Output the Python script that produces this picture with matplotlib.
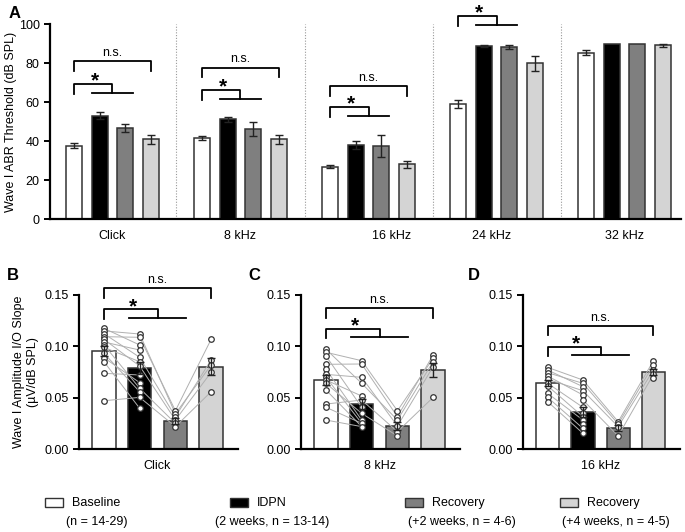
import matplotlib.pyplot as plt
from matplotlib.patches import Rectangle
import numpy as np

plt.rcParams['font.family'] = ['Liberation Sans', 'DejaVu Sans']
plt.rcParams['font.size'] = 9

# ---- data ----
groups = ['Baseline', 'IDPN', 'Recovery', 'Recovery']
group_sub = ['(n = 14-29)', '(2 weeks, n = 13-14)', '(+2 weeks, n = 4-6)', '(+4 weeks, n = 4-5)']
colors = ['white', 'black', '#7f7f7f', '#d4d4d4']

# panel A: ABR thresholds (dB SPL), rows = stimulus, cols = group
freqs_a = ['Click', '8 kHz', '16 kHz', '24 kHz', '32 kHz']
thr_mean = [[37.7, 53.0, 46.6, 40.9],
            [41.4, 51.2, 46.2, 40.9],
            [26.9, 38.0, 37.5, 28.0],
            [59.2, 88.9, 88.2, 79.8],
            [85.4, 90.0, 90.0, 89.0]]
thr_sem = [[1.1, 1.9, 2.2, 2.3],
           [1.0, 1.2, 3.8, 2.2],
           [0.7, 2.0, 5.7, 2.0],
           [2.1, 0.6, 1.2, 3.8],
           [1.5, 0.0, 0.0, 1.0]]
# significance brackets in A: (stimulus index, n.s. height or None, star height)
sig_a = [(0, 80.8, 69.2), (1, 77.7, 66.3), (2, 68.3, 57.4), (3, None, 104.0)]

# panels B-D: wave I amplitude I/O slope
freqs_b = ['Click', '8 kHz', '16 kHz']
slope_mean = [[0.0955, 0.0787, 0.0269, 0.0802],
              [0.0672, 0.0438, 0.0224, 0.0770],
              [0.0646, 0.0364, 0.0208, 0.0753]]
slope_sem = [[0.005, 0.006, 0.003, 0.008],
             [0.005, 0.005, 0.004, 0.007],
             [0.003, 0.005, 0.003, 0.003]]

click_base = [0.1175, 0.115, 0.1123, 0.1094, 0.1068, 0.1042, 0.1013, 0.099, 0.0932, 0.089, 0.085, 0.0737, 0.047]
click_idpn = [0.112, 0.1088, 0.1013, 0.0964, 0.0893, 0.085, 0.0808, 0.0721, 0.0646, 0.0591, 0.0558, 0.0503, 0.0396]
click_rec2 = [0.0373, 0.0344, 0.0315, 0.0282, 0.025, 0.0218]
click_rec4 = [0.1068, 0.0867, 0.0818, 0.0747, 0.0558]

k8_base = [0.0971, 0.0942, 0.0906, 0.0825, 0.0776, 0.0727, 0.0698, 0.0672, 0.064, 0.0575, 0.0438, 0.0406, 0.0282]
k8_idpn = [0.086, 0.0828, 0.0698, 0.064, 0.0516, 0.0477, 0.0406, 0.0347, 0.0282, 0.025, 0.0218]
k8_rec2 = [0.0373, 0.0315, 0.0282, 0.0224, 0.0169, 0.0127]
k8_rec4 = [0.0916, 0.0883, 0.0851, 0.0802, 0.0503]

k16_base = [0.0795, 0.0769, 0.0743, 0.0711, 0.0679, 0.064, 0.0614, 0.0542, 0.0503, 0.0461]
k16_idpn = [0.0672, 0.064, 0.0607, 0.0568, 0.0526, 0.0477, 0.0406, 0.0354, 0.0315, 0.0282, 0.0244, 0.0201, 0.0153]
k16_rec2 = [0.0266, 0.0244, 0.0218, 0.0127]
k16_rec4 = [0.086, 0.0818, 0.0769, 0.0727, 0.0688]

# which animals are tracked across sessions (index pairs)
click_pairs = [[(0, 2), (1, 0), (2, 4), (3, 1), (4, 6), (5, 3), (6, 9), (7, 5), (8, 10), (9, 8), (10, 12), (11, 7), (12, 11)],
               [(0, 1), (1, 0), (4, 2), (6, 3), (9, 4), (11, 5)],
               [(0, 0), (1, 2), (2, 1), (3, 3), (5, 4)]]
k8_pairs = [[(0, 3), (1, 0), (2, 6), (3, 1), (4, 8), (5, 2), (6, 9), (7, 4), (8, 7), (9, 10), (10, 5), (11, 9), (12, 10)],
            [(0, 0), (1, 1), (2, 3), (3, 2), (5, 4), (7, 5)],
            [(0, 1), (1, 0), (2, 2), (3, 3), (4, 4)]]
k16_pairs = [[(0, 0), (1, 2), (2, 1), (3, 4), (4, 3), (5, 6), (6, 8), (7, 9), (8, 11), (9, 12)],
             [(0, 0), (1, 1), (3, 2), (5, 3)],
             [(0, 0), (1, 1), (2, 2), (3, 3)]]
sig_b = [(0.1565, 0.136), (0.137, 0.117), (0.1199, 0.0998)]

fig = plt.figure(figsize=(6.85, 5.32), dpi=100)


def style_axes(ax):
    for s in ['top', 'right']:
        ax.spines[s].set_visible(False)
    for s in ['left', 'bottom']:
        ax.spines[s].set_linewidth(1.6)
    ax.tick_params(axis='y', width=1.4, length=4, labelsize=9)
    ax.tick_params(axis='x', length=0, labelsize=9, pad=8)


def star_bracket(ax, x0, top, drop, text_off):
    kw = dict(color='black', lw=1.3, clip_on=False)
    ax.plot([x0, x0, x0 + 1.5, x0 + 1.5], [top - drop, top, top, top - drop * 0.9], **kw)
    ax.plot([x0 + 0.7, x0 + 2.3], [top - drop * 0.9, top - drop * 0.9], **kw)
    ax.text(x0 + 0.8, top + text_off, '*', ha='center', va='center', fontsize=15, fontweight='bold')


def ns_bracket(ax, x0, x1, top, drop, text_off):
    ax.plot([x0, x0, x1, x1], [top - drop, top, top, top - drop], color='black', lw=1.3, clip_on=False)
    ax.text((x0 + x1) / 2, top + text_off, 'n.s.', ha='center', va='bottom', fontsize=9)


# ---- panel A ----
axA = fig.add_axes([0.073, 0.5883, 0.921, 0.3665])
for g in range(len(freqs_a)):
    for j in range(4):
        x = g * 5 + j
        axA.bar(x, thr_mean[g][j], width=0.63, color=colors[j], edgecolor='#333333', linewidth=1.1, zorder=2)
        if thr_sem[g][j] > 0:
            axA.errorbar(x, thr_mean[g][j], yerr=thr_sem[g][j], color='#222222', lw=1, capsize=3, capthick=1, zorder=3)
for g in range(1, len(freqs_a)):
    axA.axvline(g * 5 - 1, color='#999999', lw=0.8, ls=(0, (1, 1.5)), zorder=1)
for g, ns_h, st_h in sig_a:
    if ns_h is not None:
        ns_bracket(axA, g * 5, g * 5 + 3, ns_h, 5, 1.2)
    star_bracket(axA, g * 5, st_h, 5, 1.5)
axA.set_xlim(-0.94, 23.7)
axA.set_ylim(0, 100)
axA.set_yticks([0, 20, 40, 60, 80, 100])
axA.set_xticks([1.5, 6.5, 12.4, 16.3, 21.5])
axA.set_xticklabels(freqs_a)
axA.set_ylabel('Wave I ABR Threshold (dB SPL)', fontsize=9, labelpad=1)
style_axes(axA)
fig.text(0.012, 0.975, 'A', fontsize=12, fontweight='bold', ha='left', va='center')

# ---- panels B-D ----
points = [[click_base, click_idpn, click_rec2, click_rec4],
          [k8_base, k8_idpn, k8_rec2, k8_rec4],
          [k16_base, k16_idpn, k16_rec2, k16_rec4]]
pairs = [click_pairs, k8_pairs, k16_pairs]
lefts = [0.1153, 0.4394, 0.7635]
widths = [0.232, 0.232, 0.229]
letters = ['B', 'C', 'D']
letter_x = [0.01, 0.362, 0.683]

for p in range(3):
    ax = fig.add_axes([lefts[p], 0.156, widths[p], 0.2895])
    for j in range(4):
        ax.bar(j, slope_mean[p][j], width=0.66, color=colors[j], edgecolor='#333333', linewidth=1.1, zorder=1)
        ax.errorbar(j, slope_mean[p][j], yerr=slope_sem[p][j], color='#222222', lw=1, capsize=3, capthick=1, zorder=4)
    for k in range(3):
        for a, b in pairs[p][k]:
            ax.plot([k, k + 1], [points[p][k][a], points[p][k + 1][b]], color='#b0b0b0', lw=0.7, zorder=2)
    for j in range(4):
        ax.plot(np.full(len(points[p][j]), j), points[p][j], 'o', ms=4.0, mfc='white', mec='#333333',
                mew=0.9, zorder=3)
    ns_h, st_h = sig_b[p]
    ns_bracket(ax, 0, 3, ns_h, 0.009, 0.002)
    star_bracket(ax, 0, st_h, 0.009, 0.0025)
    ax.set_xlim(-0.7, 3.75)
    ax.set_ylim(0, 0.15)
    ax.set_yticks([0, 0.05, 0.10, 0.15])
    ax.set_yticklabels(['0.00', '0.05', '0.10', '0.15'])
    ax.set_xticks([1.5])
    ax.set_xticklabels([freqs_b[p]])
    style_axes(ax)
    if p == 0:
        ax.set_ylabel('Wave I Amplitude I/O Slope\n(µV/dB SPL)', fontsize=9, labelpad=4)
    fig.text(letter_x[p], 0.483, letters[p], fontsize=12, fontweight='bold', ha='left', va='center')

# ---- legend ----
box_x = [45, 230, 405, 560]
sub_x = [97, 272, 462, 616]
W, H = 685.0, 532.0
for i in range(4):
    fig.patches.append(Rectangle((box_x[i] / W, 1 - 507 / H), 18 / W, 9 / H, transform=fig.transFigure,
                                 facecolor=colors[i], edgecolor='#333333', lw=1))
    fig.text((box_x[i] + 27) / W, 1 - 503 / H, groups[i], ha='left', va='center', fontsize=9)
    fig.text(sub_x[i] / W, 1 - 522 / H, group_sub[i], ha='center', va='center', fontsize=9)

fig.savefig('out.png', dpi=100)
